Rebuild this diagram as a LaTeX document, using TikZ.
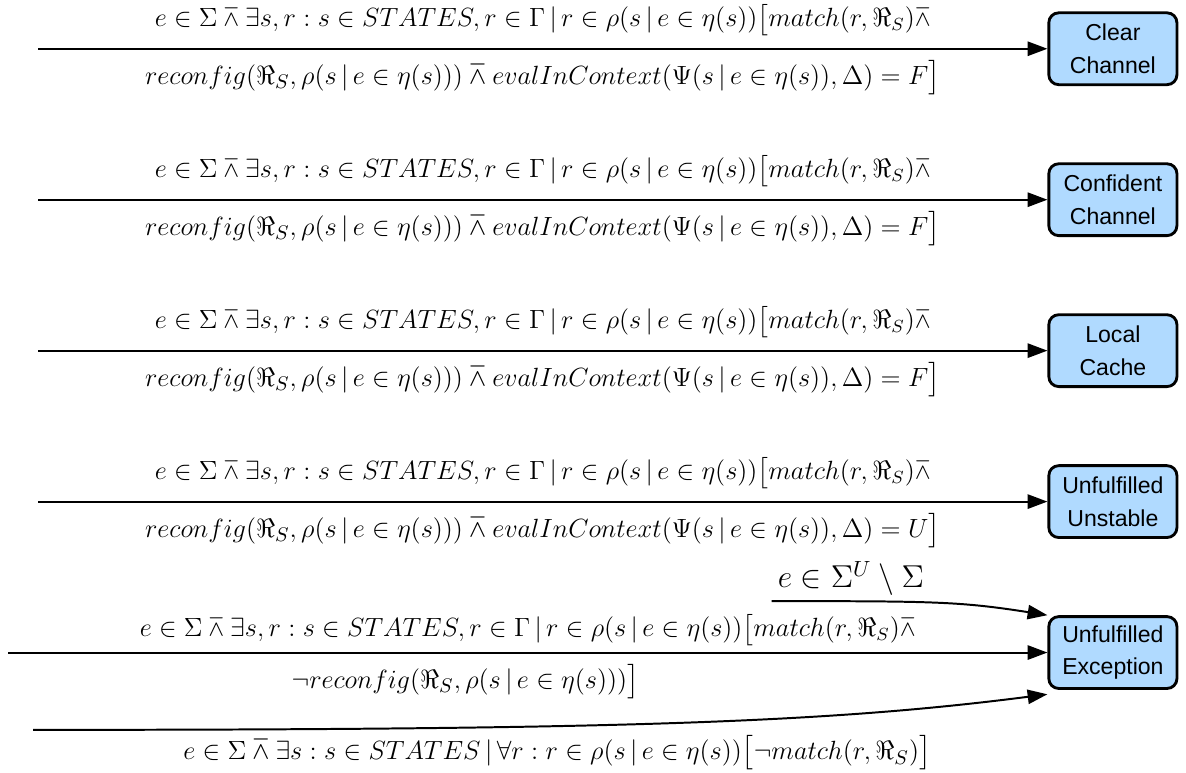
\documentclass[tikz,border=0pt]{standalone}
\usepackage{amsmath, amssymb}
\usepackage{fontspec}
\newfontfamily\boxfont{Liberation Sans}
\usepackage{tikz}
\usetikzlibrary{arrows.meta, positioning}

\definecolor{stateblue}{RGB}{176,218,255}

\newcommand{\guardtop}{$e\in\Sigma\barwedge\exists s,r : s\in STATES, r\in\Gamma\,|\,r\in\rho(s\,|\,e\in\eta(s))\big[match(r,\Re_S)\barwedge$}
\newcommand{\guardbot}[1]{$reconfig(\Re_S,\rho(s\,|\,e\in\eta(s)))\barwedge evalInContext(\Psi(s\,|\,e\in\eta(s)),\Delta)=#1\big]$}

\begin{document}
\begin{tikzpicture}[node distance=1.22cm, >={Triangle[length=9pt,width=6.5pt]}, line width=0.9pt,
	state/.style={draw, line width=1.3pt, rounded corners=4.5pt, fill=stateblue, minimum width=2.05cm, minimum height=1.15cm, align=center, font={\boxfont\fontsize{10.5}{15}\selectfont}},
	guardup/.style={font={\fontsize{11.9}{14}\selectfont}, inner sep=2pt},
	guarddown/.style={font={\fontsize{13.1}{16}\selectfont}, inner sep=2pt},
	guardcurve/.style={font={\fontsize{13.7}{16}\selectfont}, inner sep=2pt}]
				\useasboundingbox (0,0) rectangle (18.98,-12.37);
				
				\node [state] (clear) at (17.81,-0.78) {Clear\\Channel};
				\node [state, below=of clear] (confident) {Confident\\Channel};
				\node [state, below=of confident] (cache) {Local\\Cache};
				\node [state, below=of cache] (unstable) {Unfulfilled\\Unstable};
				\node [state, below=of unstable] (exception) {Unfulfilled\\Exception};
				
				\coordinate (in1) at (0.61,0 |- clear.west);
				\coordinate (in2) at (0.61,0 |- confident.west);
				\coordinate (in3) at (0.61,0 |- cache.west);
				\coordinate (in4) at (0.61,0 |- unstable.west);
				\coordinate (in5) at (0.13,0 |- exception.west);
				\coordinate (inU) at (12.35,-9.62);
				\coordinate (inN) at (0.53,-11.68);
				
				\draw [->] (in1) -- (clear) node [guardup, midway, above=3.5pt] {\guardtop} node [guarddown, midway, below=3pt] {\guardbot{F}};
				\draw [->] (in2) -- (confident) node [guardup, midway, above=3.5pt] {\guardtop} node [guarddown, midway, below=3pt] {\guardbot{F}};
				\draw [->] (in3) -- (cache) node [guardup, midway, above=3.5pt] {\guardtop} node [guarddown, midway, below=3pt] {\guardbot{F}};
				\draw [->] (in4) -- (unstable) node [guardup, midway, above=3.5pt] {\guardtop} node [guarddown, midway, below=3pt] {\guardbot{U}};
				\draw [->] (in5) -- (exception) node [guardup, midway, above=0.5pt] {\guardtop} node [guarddown, pos=0.44, below=3pt] {$\neg reconfig(\Re_S,\rho(s\,|\,e\in\eta(s)))\big]$};
				\draw [->] (inU) .. controls +(2.6,0) and +(-1.4,0.22) .. node [guardcurve, pos=0.19, above] {$e\in\Sigma^U\setminus\Sigma$} (exception.north west);
				\draw [->] (inN) .. controls +(9.5,0) and +(-3.5,-0.45) .. node [guarddown, pos=0.375, below=2pt] {$e\in\Sigma\barwedge\exists s : s\in STATES\,|\,\forall r : r\in\rho(s\,|\,e\in\eta(s))\big[\neg match(r,\Re_S)\big]$} ([yshift=-2pt]exception.south west);
			\end{tikzpicture}
\end{document}
